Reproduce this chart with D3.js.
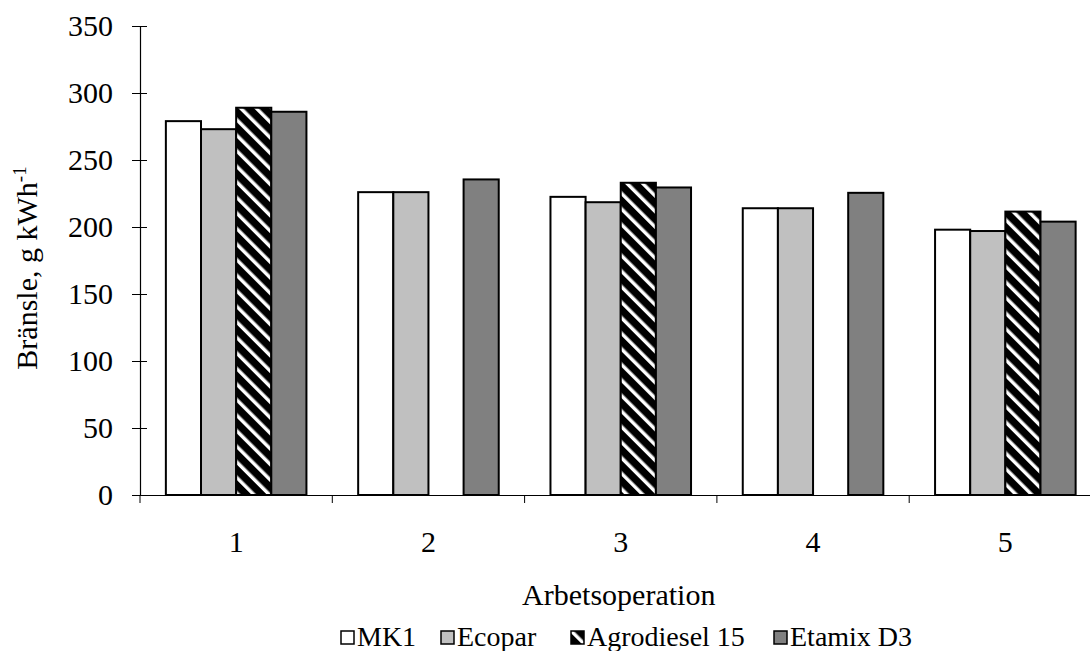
<!DOCTYPE html>
<html>
<head>
<meta charset="utf-8">
<script src="https://cdn.jsdelivr.net/npm/d3@7"></script>
<style>
  html, body { margin: 0; padding: 0; background: #fff; }
  svg text { font-family: "Liberation Serif", Tinos, "Times New Roman", Times, "DejaVu Serif", serif; }
</style>
</head>
<body>
<svg id="chart" width="1090" height="651"></svg>
<script>
const categories = ["1", "2", "3", "4", "5"];
const seriesNames = ["MK1", "Ecopar", "Agrodiesel 15", "Etamix D3"];
const mk1 = [279, 226, 222.5, 214, 198];
const ecopar = [273, 226, 218.5, 214, 197];
const agrodiesel = [289, null, 233, null, 211.5];
const etamix = [286, 235.5, 229.5, 225.5, 204];
const yTicks = [0, 50, 100, 150, 200, 250, 300, 350];
const yLabel = "Bränsle, g kWh";
const yLabelSup = "-1";
const xLabel = "Arbetsoperation";

(function () {
const seriesValues = [mk1, ecopar, agrodiesel, etamix];
const fills = ["#ffffff", "#c0c0c0", "url(#stripes)", "#808080"];

const svg = d3.select("#chart");
const defs = svg.append("defs");
const pat = defs.append("pattern")
  .attr("id", "stripes")
  .attr("patternUnits", "userSpaceOnUse")
  .attr("width", 11)
  .attr("height", 11)
  .attr("patternTransform", "rotate(-45)");
pat.append("rect").attr("width", 11).attr("height", 11).attr("fill", "#000");
pat.append("rect").attr("x", 4).attr("width", 3.5).attr("height", 11).attr("fill", "#fff");

const pLeft = 140, pRight = 1101.5, pTop = 26, pBottom = 495;

const x0 = d3.scaleBand().domain(categories).range([pLeft, pRight]).padding(0);
const x1 = d3.scaleBand().domain(seriesNames).range([0, x0.bandwidth()])
  .paddingInner(0).paddingOuter(0.736);
const y = d3.scaleLinear().domain([0, 350]).range([pBottom, pTop]);

// bars
const data = [];
categories.forEach((c, i) => {
  seriesNames.forEach((s, j) => {
    const v = seriesValues[j][i];
    if (v != null) data.push({ c, s, v, j });
  });
});
svg.append("g").selectAll("rect").data(data).join("rect")
  .attr("x", d => x0(d.c) + x1(d.s))
  .attr("y", d => y(d.v))
  .attr("width", x1.bandwidth())
  .attr("height", d => y(0) - y(d.v))
  .attr("fill", d => fills[d.j])
  .attr("stroke", "#000")
  .attr("stroke-width", 2);

// y axis
const yAxis = svg.append("g").attr("transform", `translate(${pLeft},0)`)
  .call(d3.axisLeft(y).tickValues(yTicks).tickSize(8).tickSizeOuter(0).tickFormat(d3.format("d")));
yAxis.attr("font-family", null).attr("font-size", null);
yAxis.select(".domain").attr("stroke", "#000").attr("stroke-width", 1.2);
yAxis.selectAll(".tick line").attr("x2", -8).attr("x1", 7).attr("stroke", "#000");
yAxis.selectAll(".tick text")
  .attr("x", -27)
  .attr("font-size", 30)
  .attr("fill", "#000");

// x axis
const xAxis = svg.append("g").attr("transform", `translate(0,${pBottom})`)
  .call(d3.axisBottom(x0).tickSize(0).tickSizeOuter(0));
xAxis.attr("font-family", null).attr("font-size", null);
xAxis.select(".domain").attr("stroke", "#000").attr("stroke-width", 1.2);
xAxis.selectAll(".tick text")
  .attr("y", 57).attr("dy", null)
  .attr("font-size", 30)
  .attr("fill", "#000");
const boundaries = categories.map(c => x0(c)).concat([x0(categories[categories.length - 1]) + x0.bandwidth()]);
xAxis.selectAll(".bound").data(boundaries).join("line")
  .attr("class", "bound")
  .attr("x1", d => d).attr("x2", d => d)
  .attr("y1", 0).attr("y2", 8)
  .attr("stroke", "#000");

// axis titles
const yt = svg.append("text")
  .attr("transform", "translate(37,268) rotate(-90)")
  .attr("text-anchor", "middle")
  .attr("font-size", 30)
  .attr("fill", "#000");
yt.append("tspan").text(yLabel);
yt.append("tspan").attr("font-size", 19).attr("dy", -11).text(yLabelSup);

svg.append("text")
  .attr("x", (pLeft + pRight) / 2 - 2)
  .attr("y", 605)
  .attr("text-anchor", "middle")
  .attr("font-size", 30)
  .attr("fill", "#000")
  .text(xLabel);

// legend
const legendX = [340, 440, 570, 773];
const lg = svg.append("g").selectAll("g").data(seriesNames).join("g")
  .attr("transform", (d, i) => `translate(${legendX[i]},0)`);
lg.append("rect")
  .attr("x", 1).attr("y", 631)
  .attr("width", 13).attr("height", 13)
  .attr("fill", (d, i) => fills[i])
  .attr("stroke", "#000").attr("stroke-width", 1.5);
lg.append("text")
  .attr("x", 17).attr("y", 646)
  .attr("font-size", 28)
  .attr("fill", "#000")
  .text(d => d);
})();
</script>
</body>
</html>
